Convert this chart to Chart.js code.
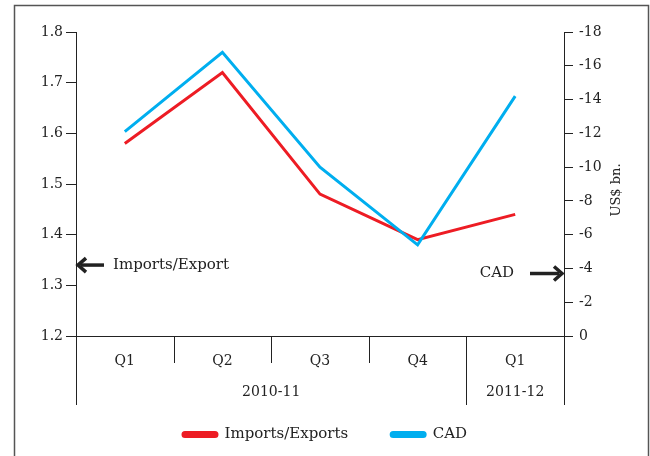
<!DOCTYPE html>
<html>
<head>
<meta charset="utf-8">
<script src="https://cdn.jsdelivr.net/npm/chart.js@4.4.0/dist/chart.umd.min.js"></script>
<style>
  html, body { margin: 0; padding: 0; background: #fff; }
  #wrap { width: 650px; height: 456px; }
</style>
</head>
<body>
<div id="wrap"><canvas id="chart"></canvas></div>
<script>
// --- Data ---
const quarters = ["Q1", "Q2", "Q3", "Q4", "Q1"];
const fiscalYears = ["2010-11", "2010-11", "2010-11", "2010-11", "2011-12"];
const importsExports = [1.58, 1.72, 1.48, 1.39, 1.44];
const cad = [-12.1, -16.8, -10.0, -5.4, -14.2];
const ratioTicks = [1.2, 1.3, 1.4, 1.5, 1.6, 1.7, 1.8];
const cadTicks = [0, -2, -4, -6, -8, -10, -12, -14, -16, -18];

// --- Styles ---
const FONT = "'DejaVu Serif', 'Liberation Serif', serif";
const INK = "#222";
const RED = "#ed1c24";
const BLUE = "#00aeef";

// arrow with a heavy head, tip at tipX
const drawArrow = (ctx, tailX, tipX, y) => {
  const dir = tipX > tailX ? 1 : -1;
  ctx.lineCap = "butt";
  ctx.beginPath();
  ctx.moveTo(tailX, y);
  ctx.lineTo(tipX - dir * 4, y);
  ctx.lineWidth = 3.5;
  ctx.stroke();
  ctx.beginPath();
  ctx.moveTo(tipX - dir * 9, y - 7);
  ctx.lineTo(tipX - dir * 1, y);
  ctx.lineTo(tipX - dir * 9, y + 7);
  ctx.lineWidth = 3.5;
  ctx.lineJoin = "miter";
  ctx.stroke();
};

// frame, two-tier category axis and the side notes
const decorations = {
  id: "decorations",
  afterDraw(chart) {
    const { ctx, chartArea: a, scales } = chart;
    const x = scales.x;
    ctx.save();

    // outer frame
    ctx.strokeStyle = "#555";
    ctx.lineWidth = 1.5;
    ctx.strokeRect(14.5, 5.5, 634, 480);

    // category boundaries
    const bounds = [a.left];
    for (let i = 1; i < quarters.length; i++) {
      bounds.push((x.getPixelForValue(i - 1) + x.getPixelForValue(i)) / 2);
    }
    bounds.push(a.right);

    ctx.strokeStyle = INK;
    ctx.lineWidth = 1;
    bounds.forEach((bx, i) => {
      const edge = i === 0 || i === bounds.length - 1;
      const newGroup = !edge && fiscalYears[i] !== fiscalYears[i - 1];
      const bottom = edge || newGroup ? a.bottom + 69 : a.bottom + 27;
      const px = Math.round(bx) + 0.5;
      ctx.beginPath();
      ctx.moveTo(px, a.bottom);
      ctx.lineTo(px, bottom);
      ctx.stroke();
    });

    // fiscal year labels
    ctx.fillStyle = INK;
    ctx.font = "14px " + FONT;
    ctx.textAlign = "center";
    ctx.textBaseline = "middle";
    let start = 0;
    for (let i = 1; i <= fiscalYears.length; i++) {
      if (i === fiscalYears.length || fiscalYears[i] !== fiscalYears[start]) {
        ctx.fillText(fiscalYears[start], (bounds[start] + bounds[i]) / 2, a.bottom + 56);
        start = i;
      }
    }

    // right axis title, reading upwards
    ctx.save();
    ctx.translate(617, 190);
    ctx.rotate(-Math.PI / 2);
    ctx.font = "13px " + FONT;
    ctx.fillText("US$ bn.", 0, 0);
    ctx.restore();

    // side notes
    ctx.strokeStyle = "#222";
    ctx.fillStyle = INK;
    ctx.font = "15px " + FONT;
    const yLeft = scales.y.getPixelForValue(1.34);
    drawArrow(ctx, a.left + 28, a.left + 1, yLeft);
    ctx.textAlign = "left";
    ctx.fillText("Imports/Export", a.left + 37, yLeft);

    const yRight = scales.y2.getPixelForValue(-3.7);
    drawArrow(ctx, a.right - 34, a.right - 1, yRight);
    ctx.textAlign = "right";
    ctx.fillText("CAD", a.right - 50, yRight);

    ctx.restore();
  },
};

const chart = new Chart(document.getElementById("chart"), {
  type: "line",
  data: {
    labels: quarters,
    datasets: [
      {
        label: "CAD",
        data: cad,
        yAxisID: "y2",
        borderColor: BLUE,
        backgroundColor: BLUE,
        borderWidth: 3,
        pointRadius: 0,
        tension: 0,
      },
      {
        label: "Imports/Exports",
        data: importsExports,
        yAxisID: "y",
        borderColor: RED,
        backgroundColor: RED,
        borderWidth: 3,
        pointRadius: 0,
        tension: 0,
      },
    ],
  },
  options: {
    responsive: true,
    maintainAspectRatio: false,
    animation: false,
    layout: { padding: { top: 32, left: 0, right: 0, bottom: 4 } },
    plugins: {
      tooltip: { enabled: false },
      legend: {
        position: "bottom",
        reverse: true,
        labels: {
          font: { family: FONT, size: 15 },
          color: INK,
          boxWidth: 34,
          boxHeight: 4,
          useBorderRadius: true,
          borderRadius: 2,
          padding: 43,
        },
      },
    },
    scales: {
      x: {
        offset: true,
        grid: { display: false },
        border: { display: true, color: INK, width: 1 },
        ticks: { font: { family: FONT, size: 14 }, color: INK, padding: 9 },
        afterFit: (scale) => { scale.height = 48; },
      },
      y: {
        position: "left",
        min: 1.2,
        max: 1.8,
        afterBuildTicks: (scale) => { scale.ticks = ratioTicks.map((v) => ({ value: v })); },
        grid: { drawOnChartArea: false, tickLength: 10, color: INK },
        border: { display: true, color: INK, width: 1 },
        ticks: {
          font: { family: FONT, size: 14 },
          color: INK,
          padding: 3,
          callback: (v) => v.toFixed(1),
        },
        afterFit: (scale) => { scale.width = 76; },
      },
      y2: {
        position: "right",
        min: -18,
        max: 0,
        reverse: true,
        afterBuildTicks: (scale) => { scale.ticks = cadTicks.map((v) => ({ value: v })); },
        grid: { drawOnChartArea: false, tickLength: 9, color: INK },
        border: { display: true, color: INK, width: 1 },
        ticks: {
          font: { family: FONT, size: 14 },
          color: INK,
          padding: 6,
          callback: (v) => String(v),
        },
        afterFit: (scale) => { scale.width = 86; },
      },
    },
  },
  plugins: [decorations],
});
</script>
</body>
</html>
